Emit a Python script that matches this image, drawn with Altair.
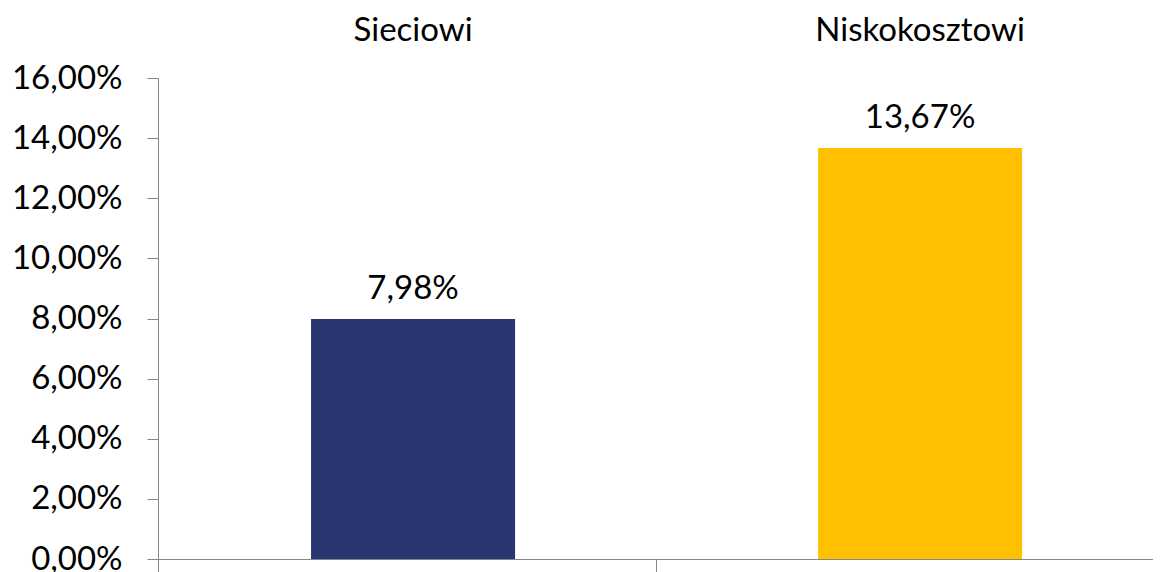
import altair as alt
import pandas as pd

categories = ["Sieciowi", "Niskokosztowi"]
values = [7.98, 13.67]
value_labels = ["7,98%", "13,67%"]
colors = ["#2A3670", "#FFC000"]
boundaries = [0, 1, 2]

df = pd.DataFrame({"cat": categories, "val": values, "lab": value_labels})
bdf = pd.DataFrame({"b": boundaries})

FONT = "Lato"
FS = 33
x_scale = alt.Scale(type="band", domain=categories, paddingInner=0.5976, paddingOuter=0.28, align=0.539)
y_scale = alt.Scale(domain=[0, 16], nice=False)

x_enc = alt.X("cat:N", scale=x_scale, sort=categories, title=None, axis=None)

y_axis = alt.Axis(values=list(range(0, 17, 2)), grid=False,
                  labelExpr="replace(format(datum.value, '.2f'), '.', ',') + '%'",
                  labelFont=FONT, labelFontSize=FS, labelColor="#000000",
                  labelPadding=25, tickSize=11, tickColor="#868686",
                  domainColor="#868686", labelOverlap=False)

bars = alt.Chart(df).mark_bar().encode(
    x=x_enc,
    y=alt.Y("val:Q", scale=y_scale, title=None, axis=y_axis),
    color=alt.Color("cat:N", scale=alt.Scale(domain=categories, range=colors), legend=None),
)

text = alt.Chart(df).mark_text(font=FONT, fontSize=FS, color="#000000",
                               baseline="alphabetic", dy=-20).encode(
    x=x_enc,
    y=alt.Y("val:Q", scale=y_scale),
    text="lab:N",
)

cat_labels = alt.Chart(df).mark_text(font=FONT, fontSize=FS, color="#000000",
                                     baseline="alphabetic").encode(
    x=x_enc,
    y=alt.value(-37),
    text="cat:N",
)

x_axis_layer = alt.Chart(bdf).mark_point(opacity=0).encode(
    x=alt.X("b:Q", scale=alt.Scale(domain=[0, 2], nice=False, zero=False), title=None,
            axis=alt.Axis(orient="bottom", values=[0, 1], labels=False, grid=False,
                          tickSize=14, tickColor="#868686", domainColor="#868686")),
    y=alt.value(0),
)

chart = alt.layer(bars, text, cat_labels, x_axis_layer).resolve_scale(x="independent").properties(
    width=995, height=481,
    padding={"left": 150, "top": 70, "right": 0, "bottom": 14},
    autosize=alt.AutoSizeParams(type="none"),
    background="#FFFFFF",
).configure_view(stroke="transparent", strokeWidth=0).configure_axis(grid=False)

chart.save("out.html", embed_options={"renderer": "svg", "actions": False})
